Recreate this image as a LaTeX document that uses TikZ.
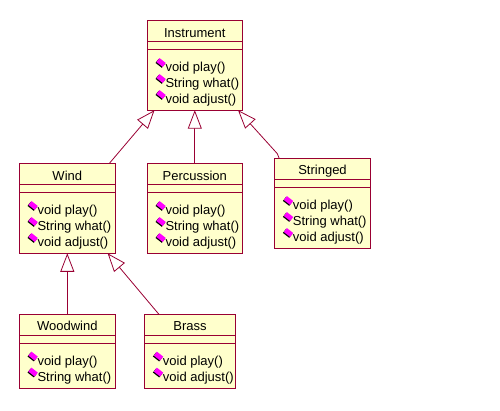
\documentclass[tikz,border=0pt]{standalone}
\usepackage{fontspec}
\setmainfont{Liberation Sans}
\usetikzlibrary{arrows.meta,calc,shadows}
\definecolor{umlline}{HTML}{990033}
\definecolor{umlfill}{HTML}{FFFFCC}
\definecolor{opmagenta}{HTML}{FF00FF}
\tikzset{
  classbox/.style={draw=umlline,fill=umlfill,line width=1pt,minimum width=#1,inner sep=0pt,outer sep=0pt},
  inherits/.style={draw=umlline,line width=0.8pt,-{Triangle[open,fill=white,length=18.5pt,width=14pt]}},
  optext/.style={anchor=west,inner sep=0pt,font=\fontsize{13}{13}\selectfont},
  opmark/.style={rectangle,rotate=-38,fill=opmagenta,minimum width=8pt,minimum height=5pt,inner sep=0pt,
    drop shadow={shadow xshift=-0.9pt,shadow yshift=-0.9pt,fill=black,opacity=1}},
}
% one class: name, left, top, width, height, title
\newcommand{\umlclass}[6]{
  \node[classbox=#4,minimum height=#5,anchor=north west] (#1) at (#2,#3) {};
  \node[optext,anchor=center] (#1title) at ($(#1.north)+(0,12)$) {#6};
  \draw[umlline,line width=1pt] ($(#1.north west)+(0,20.7)$) -- ($(#1.north east)+(0,20.7)$);
  \draw[umlline,line width=1pt] ($(#1.north west)+(0,28.7)$) -- ($(#1.north east)+(0,28.7)$);
}
% one row of a class: name, row number, text
\newcommand{\umlop}[3]{
  \node[opmark] (#1mark#2) at ($(#1.north west)+(13.8,41.8+16*#2-16)$) {};
  \node[optext] (#1op#2) at ($(#1.north west)+(18,47.5+16*#2-16)$) {#3};
}
\begin{document}
\begin{tikzpicture}[x=1pt,y=-1pt]
  \useasboundingbox (0,0) rectangle (500,411);
  \umlclass{instrument}{147.3}{20.7}{95pt}{89.5pt}{Instrument}
  \umlclass{wind}{19.3}{163.7}{96pt}{89.6pt}{Wind}
  \umlclass{percussion}{147.3}{163.7}{95pt}{89.6pt}{Percussion}
  \umlclass{stringed}{274.7}{158.7}{95.6pt}{89.4pt}{Stringed}
  \umlclass{woodwind}{19.3}{314.3}{96pt}{74pt}{Woodwind}
  \umlclass{brass}{144.7}{314.3}{90.6pt}{74pt}{Brass}

  \foreach \cls in {instrument,wind,percussion,stringed} {
    \umlop{\cls}{1}{void play()}
    \umlop{\cls}{2}{String what()}
    \umlop{\cls}{3}{void adjust()}
  }
  \umlop{woodwind}{1}{void play()}
  \umlop{woodwind}{2}{String what()}
  \umlop{brass}{1}{void play()}
  \umlop{brass}{2}{void adjust()}

  \draw[inherits] (wind.47) -- (instrument.228.5);
  \draw[inherits] (percussion.north) -- (instrument.south);
  \draw[inherits] (stringed.134.4) -- ++(-2,-5) -- (instrument.-46.2);
  \draw[inherits] (woodwind.north) -- (wind.south);
  \draw[inherits] (brass.130.9) -- ++(-3,-3.5) -- (wind.-48.6);
\end{tikzpicture}
\end{document}
